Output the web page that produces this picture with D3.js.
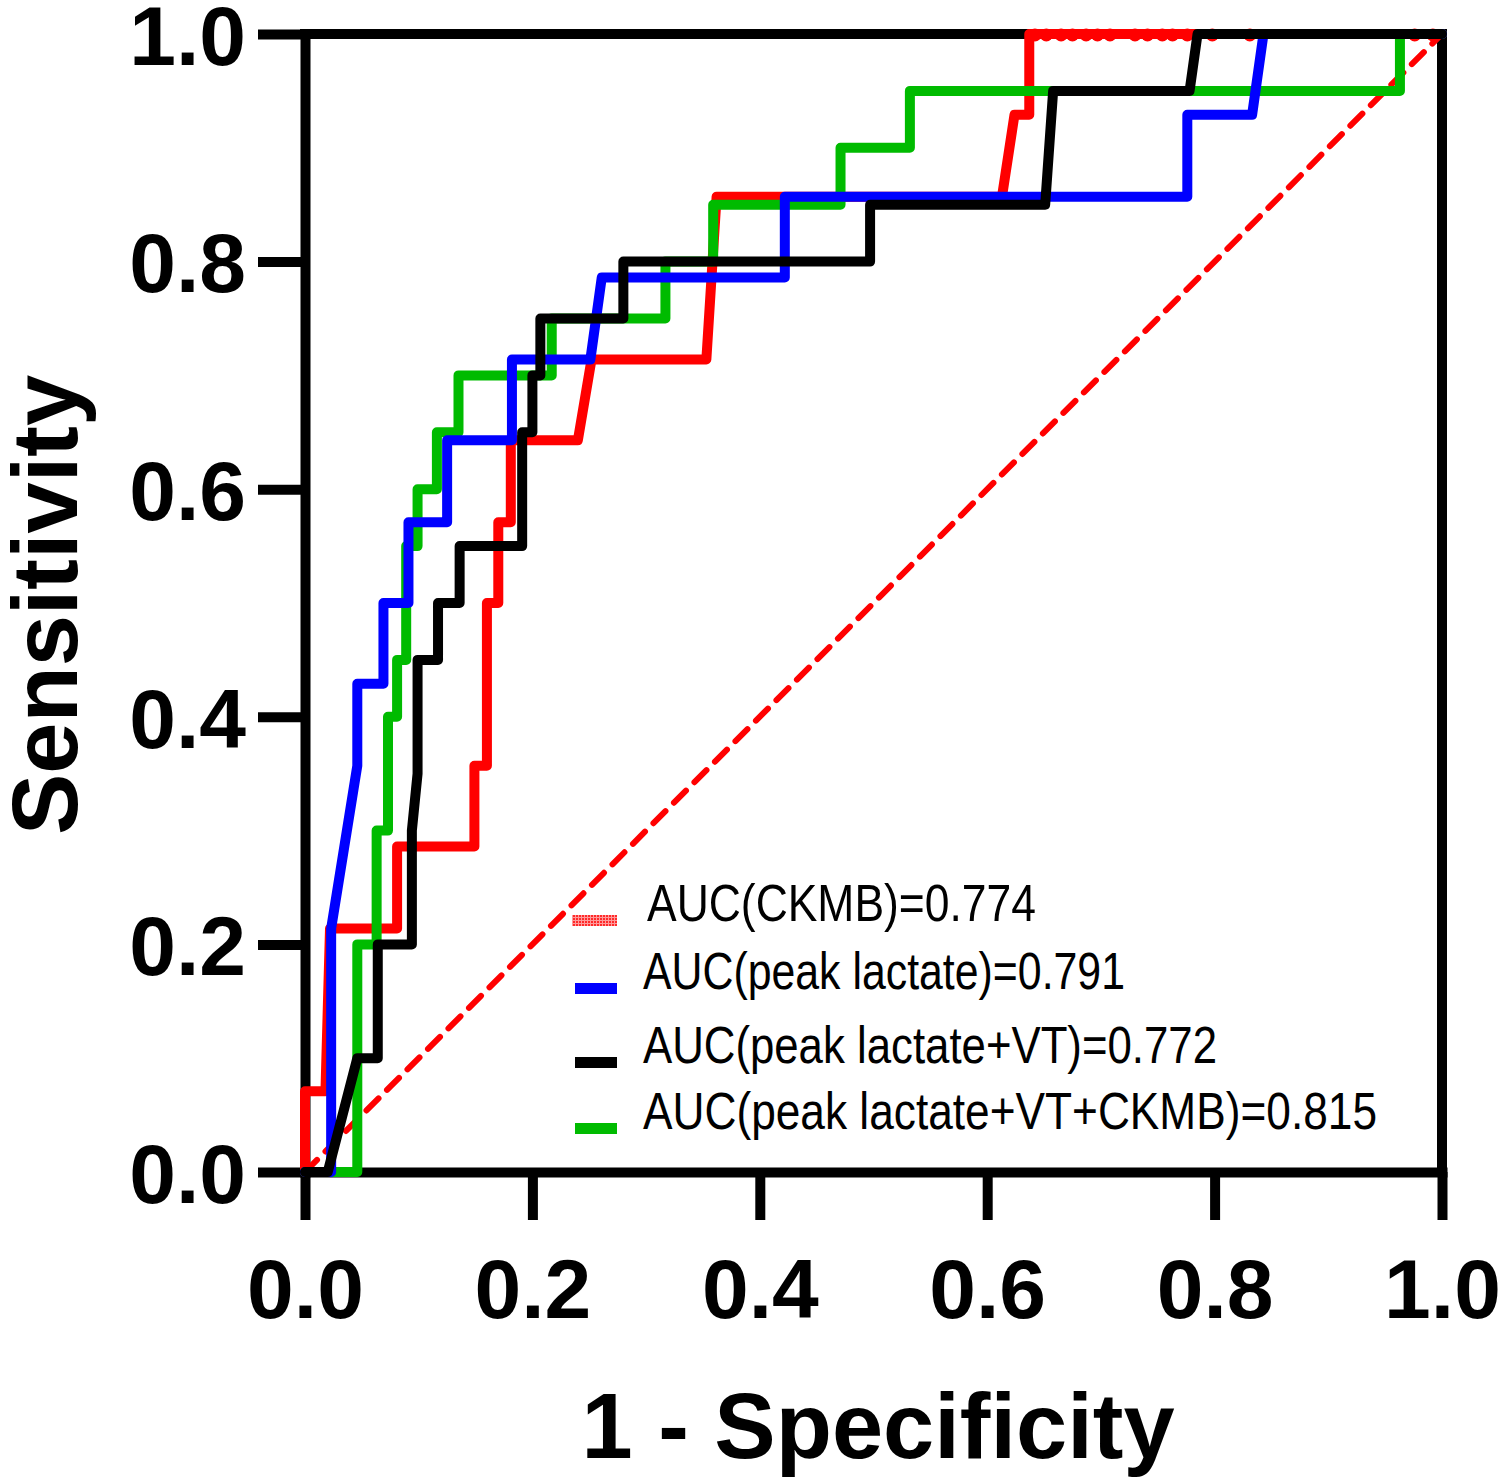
<!DOCTYPE html>
<html>
<head>
<meta charset="utf-8">
<script src="https://cdn.jsdelivr.net/npm/d3@7"></script>
<style>
  html, body { margin: 0; padding: 0; background: #fff; }
  svg { display: block; }
</style>
</head>
<body>
<svg id="chart" width="1508" height="1484"></svg>
<script>
// ---------- DATA ----------
const xTicks = [0, 0.2, 0.4, 0.6, 0.8, 1.0];
const yTicks = [0, 0.2, 0.4, 0.6, 0.8, 1.0];
const xTitle = "1 - Specificity";
const yTitle = "Sensitivity";

const seriesNames = ["CKMB", "peak lactate", "peak lactate+VT", "peak lactate+VT+CKMB"];
const legendLabels = [
  "AUC(CKMB)=0.774",
  "AUC(peak lactate)=0.791",
  "AUC(peak lactate+VT)=0.772",
  "AUC(peak lactate+VT+CKMB)=0.815"
];
const seriesColors = ["#ff0000", "#0000ff", "#000000", "#00bb00"];

// ROC points as [1 - specificity, sensitivity]
const ckmbROC = [
  [0, 0], [0, 0.071], [0.018, 0.071], [0.022, 0.214], [0.081, 0.214], [0.081, 0.286],
  [0.149, 0.286], [0.149, 0.357], [0.160, 0.357], [0.160, 0.5], [0.170, 0.5],
  [0.170, 0.571], [0.181, 0.571], [0.181, 0.643], [0.240, 0.643], [0.252, 0.714],
  [0.353, 0.714], [0.362, 0.857], [0.613, 0.857], [0.624, 0.929], [0.637, 0.929],
  [0.637, 1], [1, 1]
];
const lactateROC = [
  [0, 0], [0.023, 0], [0.023, 0.214], [0.046, 0.357], [0.046, 0.429], [0.069, 0.429],
  [0.069, 0.5], [0.091, 0.5], [0.091, 0.571], [0.125, 0.571], [0.125, 0.643],
  [0.182, 0.643], [0.182, 0.714], [0.251, 0.714], [0.261, 0.786], [0.422, 0.786],
  [0.422, 0.857], [0.776, 0.857], [0.776, 0.929], [0.833, 0.929], [0.843, 1], [1, 1]
];
const lactateVtROC = [
  [0, 0], [0.02, 0], [0.046, 0.1], [0.064, 0.1], [0.064, 0.2], [0.094, 0.2],
  [0.094, 0.3], [0.099, 0.35], [0.099, 0.45], [0.117, 0.45], [0.117, 0.5],
  [0.136, 0.5], [0.136, 0.55], [0.191, 0.55], [0.191, 0.65], [0.200, 0.65],
  [0.200, 0.7], [0.207, 0.7], [0.207, 0.75], [0.280, 0.75], [0.280, 0.8],
  [0.497, 0.8], [0.497, 0.85], [0.651, 0.85], [0.658, 0.95], [0.778, 0.95],
  [0.785, 1], [1, 1]
];
const lactateVtCkmbROC = [
  [0, 0], [0.046, 0], [0.046, 0.2], [0.063, 0.2], [0.063, 0.3], [0.073, 0.3],
  [0.073, 0.4], [0.081, 0.4], [0.081, 0.45], [0.089, 0.45], [0.089, 0.55],
  [0.099, 0.55], [0.099, 0.6], [0.116, 0.6], [0.116, 0.65], [0.135, 0.65],
  [0.135, 0.7], [0.217, 0.7], [0.217, 0.75], [0.317, 0.75], [0.317, 0.8],
  [0.359, 0.8], [0.359, 0.85], [0.471, 0.85], [0.471, 0.9], [0.532, 0.9],
  [0.532, 0.95], [0.963, 0.95], [0.963, 1], [1, 1]
];
// visible point markers of CKMB curve along sensitivity = 1
const ckmbTopMarkersX = [0.642, 0.652, 0.665, 0.675, 0.687, 0.697, 0.708, 0.730, 0.741, 0.754, 0.763, 0.776, 0.798, 0.831, 0.976, 0.992];
const referenceLine = [[0, 0], [1, 1]];

// ---------- LAYOUT ----------
const svg = d3.select("#chart");
const x = d3.scaleLinear().domain([0, 1]).range([305, 1442]);
const y = d3.scaleLinear().domain([0, 1]).range([1172, 34]);
const AX_W = 10;
const tickFont = "'Liberation Sans', Arial, Helvetica, sans-serif";

// pattern for the hatched CKMB legend swatch
const defs = svg.append("defs");
const pat = defs.append("pattern").attr("id", "hatch").attr("patternUnits", "userSpaceOnUse")
  .attr("width", 3).attr("height", 3);
pat.append("rect").attr("width", 3).attr("height", 3).attr("fill", "#ff9a9a");
pat.append("rect").attr("width", 2).attr("height", 2).attr("fill", "#ff2a2a");

// Axes
const xAxis = d3.axisBottom(x).tickValues(xTicks).tickFormat(d3.format(".1f"))
  .tickSize(48).tickSizeOuter(0).tickPadding(38);
const yAxis = d3.axisLeft(y).tickValues(yTicks).tickFormat(d3.format(".1f"))
  .tickSize(47).tickSizeOuter(0).tickPadding(12);

const gx = svg.append("g").attr("transform", `translate(0,${y(0)})`).call(xAxis);
const gy = svg.append("g").attr("transform", `translate(${x(0)},0)`).call(yAxis);

[gx, gy].forEach(g => {
  g.select(".domain").attr("stroke", "#000").attr("stroke-width", AX_W).attr("stroke-linecap", "square");
  g.selectAll(".tick line").attr("stroke", "#000").attr("stroke-width", AX_W);
  g.selectAll(".tick text")
    .attr("fill", "#000")
    .style("font-family", tickFont)
    .style("font-weight", "bold")
    .style("font-size", "84px");
});
gx.selectAll(".tick text").attr("dy", "0.71em");
gy.selectAll(".tick text").attr("dy", "0.36em");

// Frame (top and right)
svg.append("path")
  .attr("d", `M${x(0)},${y(1)}H${x(1)}V${y(0)}`)
  .attr("fill", "none").attr("stroke", "#000").attr("stroke-width", AX_W)
  .attr("stroke-linecap", "square").attr("stroke-linejoin", "miter");

// Reference diagonal
const line = d3.line().x(d => x(d[0])).y(d => y(d[1]));
svg.append("path")
  .datum(referenceLine)
  .attr("d", line)
  .attr("fill", "none").attr("stroke", "#ff0000").attr("stroke-width", 6)
  .attr("stroke-dasharray", "17,12").attr("stroke-linecap", "round");

// ROC curves
const curves = [ckmbROC, lactateVtCkmbROC, lactateROC, lactateVtROC];
const curveColors = [seriesColors[0], seriesColors[3], seriesColors[1], seriesColors[2]];
curves.forEach((c, i) => {
  svg.append("path")
    .datum(c)
    .attr("d", line)
    .attr("fill", "none")
    .attr("stroke", curveColors[i])
    .attr("stroke-width", 10)
    .attr("stroke-linejoin", "round")
    .attr("stroke-linecap", "round");
  if (i === 0) {
    svg.append("g").selectAll("circle")
      .data(ckmbTopMarkersX)
      .join("circle")
      .attr("cx", d => x(d)).attr("cy", y(1) + 1).attr("r", 6.5)
      .attr("fill", seriesColors[0]);
  }
});

// Legend
const legendRowsY = [921, 989, 1063, 1129];
const legendTextX = [647, 643, 643, 643];
const legendTextW = [389, 482, 574, 734];
const lg = svg.append("g");
legendLabels.forEach((lab, i) => {
  const by = legendRowsY[i];
  lg.append("rect")
    .attr("x", i === 0 ? 572 : 575)
    .attr("y", by - 6)
    .attr("width", i === 0 ? 45 : 42)
    .attr("height", 11)
    .attr("fill", i === 0 ? "url(#hatch)" : seriesColors[i]);
  lg.append("text")
    .attr("x", legendTextX[i])
    .attr("y", by)
    .attr("textLength", legendTextW[i])
    .attr("lengthAdjust", "spacingAndGlyphs")
    .text(lab)
    .attr("fill", "#000")
    .style("font-family", "'Liberation Sans', Arial, sans-serif")
    .style("font-size", "52px");
});

// Axis titles
svg.append("text")
  .attr("x", 878).attr("y", 1458)
  .attr("text-anchor", "middle")
  .style("font-family", tickFont).style("font-weight", "bold").style("font-size", "92px")
  .text(xTitle);

svg.append("text")
  .attr("transform", `translate(77,605) rotate(-90)`)
  .attr("text-anchor", "middle")
  .style("font-family", tickFont).style("font-weight", "bold").style("font-size", "92px")
  .text(yTitle);
</script>
</body>
</html>
